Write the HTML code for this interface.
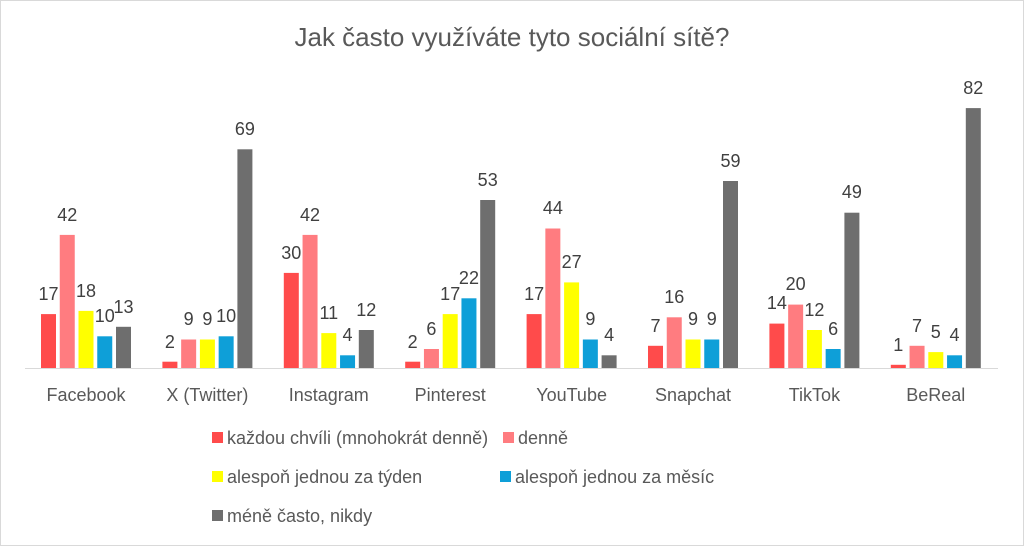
<!DOCTYPE html>
<html><head><meta charset="utf-8"><style>
body{margin:0;background:#fff}
svg{display:block;font-family:"Liberation Sans",sans-serif}
.b text{transform:translateY(-6px)}
.b text.c{transform:translateY(1px)}
</style></head><body>
<svg width="1024" height="546" viewBox="0 0 1024 546">
<rect x="0.5" y="0.5" width="1023" height="545" fill="#fff" stroke="#d9d9d9"/>
<text x="512" y="46" font-size="26" fill="#595959" text-anchor="middle">Jak často využíváte tyto sociální sítě?</text>
<line x1="25" y1="368.5" x2="998" y2="368.5" stroke="#d9d9d9" stroke-width="1"/>
<g class="b" font-size="18" fill="#404040" text-anchor="middle">
<g transform="translate(41,0)">
<rect x="0" y="314.1" width="15" height="53.9" fill="#FF4B4B"/><rect x="18.75" y="234.9" width="15" height="133.1" fill="#FF7C80"/><rect x="37.5" y="310.9" width="15" height="57.1" fill="#FFFF00"/><rect x="56.25" y="336.3" width="15" height="31.7" fill="#0E9FD8"/><rect x="75" y="326.8" width="15" height="41.2" fill="#6E6E6E"/>
<text x="7.5" y="306">17</text><text x="26.25" y="227">42</text><text x="45" y="303">18</text><text x="63.75" y="328">10</text><text x="82.5" y="319">13</text>
<text class="c" x="45" y="400" fill="#595959">Facebook</text></g>
<g transform="translate(162.4,0)">
<rect x="0" y="361.7" width="15" height="6.3" fill="#FF4B4B"/><rect x="18.75" y="339.5" width="15" height="28.5" fill="#FF7C80"/><rect x="37.5" y="339.5" width="15" height="28.5" fill="#FFFF00"/><rect x="56.25" y="336.3" width="15" height="31.7" fill="#0E9FD8"/><rect x="75" y="149.3" width="15" height="218.7" fill="#6E6E6E"/>
<text x="7.5" y="354">2</text><text x="26.25" y="331">9</text><text x="45" y="331">9</text><text x="63.75" y="328">10</text><text x="82.5" y="141">69</text>
<text class="c" x="45" y="400" fill="#595959">X (Twitter)</text></g>
<g transform="translate(283.8,0)">
<rect x="0" y="272.9" width="15" height="95.1" fill="#FF4B4B"/><rect x="18.75" y="234.9" width="15" height="133.1" fill="#FF7C80"/><rect x="37.5" y="333.1" width="15" height="34.9" fill="#FFFF00"/><rect x="56.25" y="355.3" width="15" height="12.7" fill="#0E9FD8"/><rect x="75" y="330" width="15" height="38" fill="#6E6E6E"/>
<text x="7.5" y="265">30</text><text x="26.25" y="227">42</text><text x="45" y="325">11</text><text x="63.75" y="347">4</text><text x="82.5" y="322">12</text>
<text class="c" x="45" y="400" fill="#595959">Instagram</text></g>
<g transform="translate(405.2,0)">
<rect x="0" y="361.7" width="15" height="6.3" fill="#FF4B4B"/><rect x="18.75" y="349" width="15" height="19" fill="#FF7C80"/><rect x="37.5" y="314.1" width="15" height="53.9" fill="#FFFF00"/><rect x="56.25" y="298.3" width="15" height="69.7" fill="#0E9FD8"/><rect x="75" y="200" width="15" height="168" fill="#6E6E6E"/>
<text x="7.5" y="354">2</text><text x="26.25" y="341">6</text><text x="45" y="306">17</text><text x="63.75" y="290">22</text><text x="82.5" y="192">53</text>
<text class="c" x="45" y="400" fill="#595959">Pinterest</text></g>
<g transform="translate(526.6,0)">
<rect x="0" y="314.1" width="15" height="53.9" fill="#FF4B4B"/><rect x="18.75" y="228.5" width="15" height="139.5" fill="#FF7C80"/><rect x="37.5" y="282.4" width="15" height="85.6" fill="#FFFF00"/><rect x="56.25" y="339.5" width="15" height="28.5" fill="#0E9FD8"/><rect x="75" y="355.3" width="15" height="12.7" fill="#6E6E6E"/>
<text x="7.5" y="306">17</text><text x="26.25" y="220">44</text><text x="45" y="274">27</text><text x="63.75" y="331">9</text><text x="82.5" y="347">4</text>
<text class="c" x="45" y="400" fill="#595959">YouTube</text></g>
<g transform="translate(648,0)">
<rect x="0" y="345.8" width="15" height="22.2" fill="#FF4B4B"/><rect x="18.75" y="317.3" width="15" height="50.7" fill="#FF7C80"/><rect x="37.5" y="339.5" width="15" height="28.5" fill="#FFFF00"/><rect x="56.25" y="339.5" width="15" height="28.5" fill="#0E9FD8"/><rect x="75" y="181" width="15" height="187" fill="#6E6E6E"/>
<text x="7.5" y="338">7</text><text x="26.25" y="309">16</text><text x="45" y="331">9</text><text x="63.75" y="331">9</text><text x="82.5" y="173">59</text>
<text class="c" x="45" y="400" fill="#595959">Snapchat</text></g>
<g transform="translate(769.4,0)">
<rect x="0" y="323.6" width="15" height="44.4" fill="#FF4B4B"/><rect x="18.75" y="304.6" width="15" height="63.4" fill="#FF7C80"/><rect x="37.5" y="330" width="15" height="38" fill="#FFFF00"/><rect x="56.25" y="349" width="15" height="19" fill="#0E9FD8"/><rect x="75" y="212.7" width="15" height="155.3" fill="#6E6E6E"/>
<text x="7.5" y="315">14</text><text x="26.25" y="296">20</text><text x="45" y="322">12</text><text x="63.75" y="341">6</text><text x="82.5" y="204">49</text>
<text class="c" x="45" y="400" fill="#595959">TikTok</text></g>
<g transform="translate(890.8,0)">
<rect x="0" y="364.8" width="15" height="3.2" fill="#FF4B4B"/><rect x="18.75" y="345.8" width="15" height="22.2" fill="#FF7C80"/><rect x="37.5" y="352.1" width="15" height="15.9" fill="#FFFF00"/><rect x="56.25" y="355.3" width="15" height="12.7" fill="#0E9FD8"/><rect x="75" y="108.1" width="15" height="259.9" fill="#6E6E6E"/>
<text x="7.5" y="357">1</text><text x="26.25" y="338">7</text><text x="45" y="344">5</text><text x="63.75" y="347">4</text><text x="82.5" y="100">82</text>
<text class="c" x="45" y="400" fill="#595959">BeReal</text></g>
</g>
<g font-size="18" fill="#595959">
<rect x="212" y="432" width="11" height="11" fill="#FF4B4B"/><text x="227" y="444">každou chvíli (mnohokrát denně)</text>
<rect x="503" y="432" width="11" height="11" fill="#FF7C80"/><text x="518" y="444">denně</text>
<rect x="212" y="471" width="11" height="11" fill="#FFFF00"/><text x="227" y="483">alespoň jednou za týden</text>
<rect x="500" y="471" width="11" height="11" fill="#0E9FD8"/><text x="515" y="483">alespoň jednou za měsíc</text>
<rect x="212" y="510" width="11" height="11" fill="#6E6E6E"/><text x="227" y="522">méně často, nikdy</text>
</g>
</svg>
</body></html>
